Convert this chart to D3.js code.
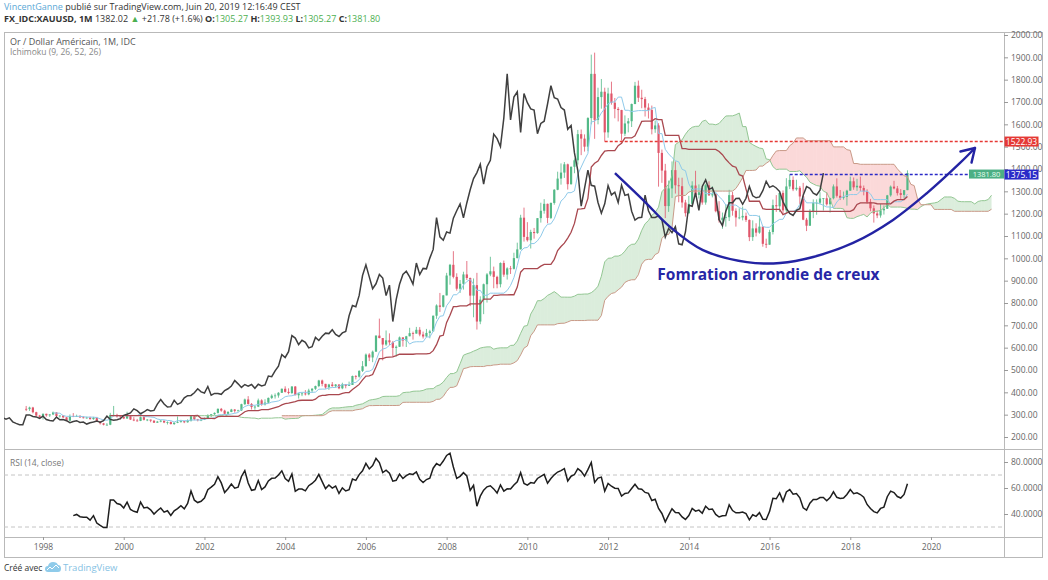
<!doctype html>
<html>
<head>
<meta charset="utf-8">
<script src="https://cdnjs.cloudflare.com/ajax/libs/d3/7.8.5/d3.min.js"></script>
<style>
  body { margin: 0; background: #fff; }
  text { font-family: "Open Sans", sans-serif; }
</style>
<title>Or / Dollar Américain, 1M</title>
</head>
<body>
<svg id="chart" width="1048" height="580"></svg>
<script>
// ---- data (monthly XAUUSD, first bar = Aug 1997) ----
var firstBar = [1997, 8];
var firstOpen = 326;

var closes = [
  325, 332, 311, 296, 290,
  304, 297, 301, 310, 294, 296, 288, 273, 294, 292, 294, 288,
  287, 287, 280, 286, 268, 261, 255, 255, 299, 299, 292, 290,
  283, 293, 278, 274, 272, 289, 277, 278, 273, 264, 269, 273,
  265, 267, 258, 264, 267, 271, 266, 273, 293, 279, 275, 277,
  282, 297, 302, 308, 326, 318, 304, 312, 323, 317, 319, 347,
  368, 348, 334, 336, 364, 346, 354, 375, 385, 386, 398, 416,
  402, 397, 426, 387, 395, 395, 391, 408, 416, 428, 453, 438,
  422, 435, 428, 435, 418, 436, 429, 433, 473, 470, 496, 517,
  569, 556, 582, 654, 643, 614, 633, 624, 599, 604, 646, 632,
  651, 665, 663, 680, 659, 650, 666, 673, 743, 789, 783, 834,
  923, 971, 917, 864, 886, 928, 912, 833, 880, 717, 815, 884,
  928, 942, 917, 884, 979, 927, 955, 953, 1001, 1040, 1182, 1096,
  1081, 1118, 1113, 1180, 1213, 1244, 1181, 1248, 1307, 1357, 1384, 1421,
  1332, 1410, 1439, 1556, 1536, 1500, 1628, 1826, 1620, 1722, 1746, 1564,
  1738, 1697, 1669, 1664, 1558, 1604, 1614, 1691, 1773, 1719, 1713, 1675,
  1664, 1578, 1595, 1472, 1393, 1234, 1313, 1395, 1327, 1323, 1250, 1202,
  1244, 1326, 1284, 1296, 1250, 1327, 1282, 1287, 1211, 1171, 1182, 1184,
  1283, 1213, 1183, 1183, 1190, 1172, 1095, 1134, 1115, 1142, 1065, 1061,
  1118, 1238, 1233, 1293, 1215, 1322, 1351, 1309, 1316, 1277, 1173, 1146,
  1211, 1249, 1249, 1268, 1269, 1242, 1269, 1322, 1280, 1271, 1275, 1303,
  1345, 1318, 1325, 1315, 1299, 1253, 1224, 1201, 1192, 1215, 1222, 1282,
  1321, 1313, 1292, 1284, 1305.27, 1381.80
];

var highs = [
  339, 336, 335, 313, 299,
  305, 304, 302, 314, 311, 297, 297, 289, 301, 307, 300, 298,
  293, 291, 291, 290, 290, 269, 263, 262, 308, 339, 304, 295,
  293, 313, 298, 289, 281, 292, 291, 280, 278, 275, 272, 276,
  273, 270, 270, 266, 292, 277, 272, 279, 298, 294, 281, 281,
  287, 302, 303, 310, 328, 330, 322, 316, 326, 325, 322, 349,
  372, 383, 352, 341, 372, 369, 369, 377, 391, 395, 401, 417,
  427, 418, 428, 428, 396, 400, 410, 416, 419, 430, 456, 457,
  438, 438, 446, 437, 436, 443, 436, 448, 475, 477, 499, 540,
  574, 575, 587, 655, 730, 643, 677, 664, 630, 610, 650, 646,
  653, 689, 672, 693, 692, 672, 684, 680, 744, 794, 845, 836,
  935, 975, 1032, 933, 903, 940, 988, 914, 910, 935, 830, 887,
  934, 1007, 963, 922, 982, 990, 960, 966, 1025, 1070, 1195, 1227,
  1162, 1128, 1136, 1180, 1249, 1265, 1245, 1250, 1310, 1388, 1425, 1431,
  1424, 1411, 1447, 1575, 1577, 1555, 1632, 1912, 1921, 1764, 1803, 1764,
  1764, 1791, 1718, 1677, 1665, 1640, 1628, 1693, 1790, 1796, 1755, 1723,
  1694, 1684, 1617, 1605, 1487, 1423, 1348, 1434, 1434, 1361, 1361, 1262,
  1280, 1345, 1392, 1331, 1315, 1332, 1345, 1323, 1290, 1256, 1205, 1239,
  1307, 1297, 1224, 1224, 1232, 1205, 1174, 1170, 1157, 1191, 1142, 1088,
  1128, 1263, 1283, 1303, 1304, 1359, 1375, 1367, 1352, 1324, 1338, 1181,
  1220, 1264, 1264, 1296, 1270, 1296, 1271, 1331, 1358, 1306, 1299, 1307,
  1366, 1362, 1356, 1366, 1326, 1309, 1266, 1237, 1214, 1243, 1237, 1284,
  1326, 1347, 1324, 1310, 1306, 1393.93
];

var lows = [
  316, 317, 306, 292, 283,
  278, 291, 290, 298, 289, 287, 285, 271, 273, 289, 290, 285,
  283, 282, 278, 277, 267, 256, 252, 252, 253, 292, 287, 278,
  280, 281, 276, 271, 269, 271, 274, 271, 266, 263, 263, 266,
  262, 256, 256, 254, 262, 264, 262, 264, 269, 275, 270, 271,
  276, 282, 289, 299, 305, 313, 301, 301, 311, 309, 315, 317,
  343, 345, 323, 322, 334, 340, 341, 351, 370, 372, 376, 397,
  399, 391, 392, 387, 372, 383, 386, 387, 398, 411, 423, 427,
  416, 411, 425, 421, 414, 414, 418, 429, 433, 458, 466, 491,
  515, 540, 535, 582, 642, 543, 608, 612, 560, 560, 603, 605,
  603, 651, 636, 663, 651, 641, 647, 642, 673, 729, 760, 780,
  834, 882, 910, 855, 845, 860, 903, 786, 736, 681, 705, 750,
  802, 920, 866, 866, 870, 917, 905, 930, 950, 1000, 1040, 1075,
  1075, 1044, 1088, 1110, 1160, 1200, 1157, 1176, 1240, 1305, 1330, 1360,
  1308, 1330, 1381, 1420, 1462, 1478, 1480, 1600, 1535, 1600, 1670, 1523,
  1540, 1688, 1627, 1613, 1527, 1548, 1564, 1588, 1690, 1700, 1672, 1635,
  1626, 1555, 1562, 1321, 1338, 1180, 1208, 1270, 1290, 1251, 1227, 1187,
  1200, 1238, 1277, 1268, 1240, 1240, 1280, 1273, 1206, 1160, 1132, 1142,
  1167, 1191, 1142, 1175, 1170, 1163, 1077, 1078, 1098, 1110, 1052, 1046,
  1061, 1107, 1208, 1207, 1200, 1200, 1310, 1301, 1303, 1241, 1171, 1122,
  1146, 1180, 1195, 1241, 1214, 1236, 1205, 1264, 1272, 1261, 1263, 1236,
  1302, 1307, 1302, 1301, 1282, 1245, 1211, 1160, 1180, 1182, 1196, 1221,
  1276, 1309, 1281, 1266, 1267, 1305.27
];

var yearTicks = [1998, 2000, 2002, 2004, 2006, 2008, 2010, 2012, 2014, 2016, 2018, 2020];
var priceTicks = [200, 300, 400, 500, 600, 700, 800, 900, 1000, 1100, 1200, 1300, 1400, 1500, 1600, 1700, 1800, 1900, 2000];
var rsiTicks = [40, 60, 80];
var rsiBands = [30, 70];
var ichimokuLens = [9, 26, 52, 26];
var rsiLen = 14;

// horizontal levels drawn by the author
var levelPrices = [1522.93, 1375.15];
var levelStarts = [[2011, 12], [2016, 7]];
var lastLabel = "1381.80";

// rounded bottom arc (decimal year, price)
var arcPoints = [
  [2012.17, 1382], [2012.87, 1261], [2013.54, 1140], [2014.35, 1037],
  [2015.44, 983], [2016.26, 979], [2017.08, 1006], [2018.07, 1069],
  [2019.06, 1172], [2019.90, 1292], [2020.72, 1427], [2021.09, 1494]
];
var arcLabel = "Fomration arrondie de creux";
var arcLabelAt = [2013.22, 905];

// ---- layout ----
var svg = d3.select("#chart");
var pane = { left: 4, right: 1004, top: 32, bottom: 449 };
var rsiPane = { top: 449, bottom: 537 };
var axisBottom = 557, frameRight = 1042;

var upColor = "#53b987", downColor = "#e0566a";

function monthIdx(ym) { return (ym[0] - 1998) * 12 + (ym[1] - 1); }
var t0 = monthIdx(firstBar);

var x = d3.scaleLinear().domain([0, 264]).range([43, 931]);
var y = d3.scaleLinear().domain([200, 2000]).range([437, 35]);
var yR = d3.scaleLinear().domain([40, 80]).range([514, 462]);

var bars = closes.map(function(c, i) {
  return { t: t0 + i, o: i ? closes[i - 1] : firstOpen, h: highs[i], l: lows[i], c: c };
});
var n = bars.length;

// ---- Ichimoku ----
function donchian(len, i) {
  if (i < len - 1) return null;
  var hi = d3.max(highs.slice(i - len + 1, i + 1));
  var lo = d3.min(lows.slice(i - len + 1, i + 1));
  return (hi + lo) / 2;
}
var shift = ichimokuLens[3] - 1;
var tenkan = [], kijun = [], spanA = [], spanB = [], chikou = [];
bars.forEach(function(b, i) {
  var tk = donchian(ichimokuLens[0], i), kj = donchian(ichimokuLens[1], i), sb = donchian(ichimokuLens[2], i);
  if (tk != null) tenkan.push({ t: b.t, v: tk });
  if (kj != null) kijun.push({ t: b.t, v: kj });
  spanA.push({ t: b.t + shift, v: (tk != null && kj != null) ? (tk + kj) / 2 : null });
  spanB.push({ t: b.t + shift, v: sb });
  chikou.push({ t: b.t - shift, v: b.c });
});

// ---- RSI (Wilder) ----
var rsi = [];
var avgUp = null, avgDn = null, sumUp = 0, sumDn = 0;
for (var i = 1; i < n; i++) {
  var ch = closes[i] - closes[i - 1];
  var up = Math.max(ch, 0), dn = Math.max(-ch, 0);
  if (i <= rsiLen) {
    sumUp += up; sumDn += dn;
    if (i === rsiLen) { avgUp = sumUp / rsiLen; avgDn = sumDn / rsiLen; }
  } else {
    avgUp = (avgUp * (rsiLen - 1) + up) / rsiLen;
    avgDn = (avgDn * (rsiLen - 1) + dn) / rsiLen;
  }
  if (i >= rsiLen) rsi.push({ t: bars[i].t, v: avgDn === 0 ? 100 : 100 - 100 / (1 + avgUp / avgDn) });
}

// ---- frame ----
var defs = svg.append("defs");
defs.append("clipPath").attr("id", "clipMain").append("rect")
  .attr("x", pane.left).attr("y", pane.top).attr("width", pane.right - pane.left).attr("height", pane.bottom - pane.top);
defs.append("clipPath").attr("id", "clipRsi").append("rect")
  .attr("x", pane.left).attr("y", rsiPane.top).attr("width", pane.right - pane.left).attr("height", rsiPane.bottom - rsiPane.top);

var frame = svg.append("g").attr("stroke", "#b9b9b9").attr("fill", "none");
frame.append("rect").attr("x", pane.left + 0.5).attr("y", pane.top + 0.5)
  .attr("width", frameRight - pane.left).attr("height", axisBottom - pane.top);
frame.append("line").attr("x1", pane.right + 0.5).attr("x2", pane.right + 0.5).attr("y1", pane.top).attr("y2", axisBottom);
frame.append("line").attr("x1", pane.left).attr("x2", frameRight).attr("y1", rsiPane.top + 0.5).attr("y2", rsiPane.top + 0.5);
frame.append("line").attr("x1", pane.left).attr("x2", frameRight).attr("y1", rsiPane.bottom + 0.5).attr("y2", rsiPane.bottom + 0.5);

// ---- main pane ----
var main = svg.append("g").attr("clip-path", "url(#clipMain)");

// cloud fill, coloured per bar like TradingView's fill()
var cloud = spanA.map(function(a, i) { return { t: a.t, a: a.v, b: spanB[i].v }; })
  .filter(function(d) { return d.a != null && d.b != null; });
for (var k = 1; k < cloud.length; k++) {
  var p = cloud[k - 1], q = cloud[k];
  main.append("path")
    .attr("d", "M" + x(p.t) + "," + y(p.a) + "L" + x(q.t) + "," + y(q.a) +
               "L" + x(q.t) + "," + y(q.b) + "L" + x(p.t) + "," + y(p.b) + "Z")
    .attr("fill", q.a >= q.b ? "rgba(90,175,95,0.22)" : "rgba(240,95,95,0.24)")
    .attr("stroke", "none");
}

// candles
var candle = main.selectAll("g.candle").data(bars).enter().append("g").attr("class", "candle");
candle.append("line")
  .attr("x1", function(d) { return x(d.t); }).attr("x2", function(d) { return x(d.t); })
  .attr("y1", function(d) { return y(d.h); }).attr("y2", function(d) { return y(d.l); })
  .attr("stroke", function(d) { return d.c >= d.o ? upColor : downColor; })
  .attr("stroke-width", 0.8);
candle.append("rect")
  .attr("x", function(d) { return x(d.t) - 1.1; })
  .attr("width", 2.2)
  .attr("y", function(d) { return y(Math.max(d.o, d.c)); })
  .attr("height", function(d) { return Math.max(0.8, Math.abs(y(d.o) - y(d.c))); })
  .attr("fill", function(d) { return d.c >= d.o ? upColor : downColor; });

var line = d3.line()
  .defined(function(d) { return d.v != null; })
  .x(function(d) { return x(d.t); })
  .y(function(d) { return y(d.v); });

main.append("path").attr("d", line(spanA)).attr("fill", "none").attr("stroke", "#93c793").attr("stroke-width", 1);
main.append("path").attr("d", line(spanB)).attr("fill", "none").attr("stroke", "#c99a88").attr("stroke-width", 1);
main.append("path").attr("d", line(tenkan)).attr("fill", "none").attr("stroke", "#8fcaea").attr("stroke-width", 1);
main.append("path").attr("d", line(kijun)).attr("fill", "none").attr("stroke", "#a9484f").attr("stroke-width", 1.3);
main.append("path").attr("d", line(chikou)).attr("fill", "none").attr("stroke", "#3f3f3f").attr("stroke-width", 1.5);

// levels
var levelColors = ["#e53935", "#2a2ac8"];
levelPrices.forEach(function(pr, i) {
  main.append("line")
    .attr("x1", x(monthIdx(levelStarts[i]))).attr("x2", pane.right)
    .attr("y1", y(pr)).attr("y2", y(pr))
    .attr("stroke", levelColors[i]).attr("stroke-width", 1.4).attr("stroke-dasharray", "3,2");
});

// arc + arrow
var arcXY = arcPoints.map(function(d) { return [x((d[0] - 1998) * 12), y(d[1])]; });
main.append("path")
  .attr("d", d3.line().curve(d3.curveCatmullRom)(arcXY))
  .attr("fill", "none").attr("stroke", "#2323a3").attr("stroke-width", 2.4);
var tip = arcXY[arcXY.length - 1], prev = arcXY[arcXY.length - 2];
var ang = Math.atan2(tip[1] - prev[1], tip[0] - prev[0]);
[-0.55, 0.55].forEach(function(da) {
  main.append("line")
    .attr("x1", tip[0]).attr("y1", tip[1])
    .attr("x2", tip[0] - 15 * Math.cos(ang + da)).attr("y2", tip[1] - 15 * Math.sin(ang + da))
    .attr("stroke", "#2323a3").attr("stroke-width", 2.4).attr("stroke-linecap", "round");
});
svg.append("text")
  .attr("x", x((arcLabelAt[0] - 1998) * 12)).attr("y", y(arcLabelAt[1]))
  .attr("font-size", 15.5).attr("font-weight", "bold").attr("fill", "#2626a6")
  .text(arcLabel);

// ---- price axis ----
var pAxis = svg.append("g").attr("transform", "translate(" + pane.right + ",0)")
  .call(d3.axisRight(y).tickValues(priceTicks).tickSize(4).tickPadding(3).tickFormat(d3.format(".2f")));
pAxis.select(".domain").remove();
pAxis.selectAll("line").attr("stroke", "#999");
pAxis.selectAll("text").attr("font-size", 8.5).attr("fill", "#666").style("font-family", "'Open Sans', sans-serif");

// level labels on the axis (they sit over the axis labels, as in the snapshot)
levelPrices.forEach(function(pr, i) {
  svg.append("rect").attr("x", pane.right + 0.5).attr("y", y(pr) - 5).attr("width", 34).attr("height", 10)
    .attr("fill", levelColors[i]);
  svg.append("text").attr("x", pane.right + 17.5).attr("y", y(pr) + 3.2).attr("text-anchor", "middle")
    .attr("font-size", 8.5).attr("fill", "#fff").text(d3.format(".2f")(pr));
});
svg.append("rect").attr("x", pane.right - 35).attr("y", y(levelPrices[1]) - 5).attr("width", 35).attr("height", 9)
  .attr("fill", "#4caf84");
svg.append("text").attr("x", pane.right - 17.5).attr("y", y(levelPrices[1]) + 2.5).attr("text-anchor", "middle")
  .attr("font-size", 7.5).attr("fill", "#e8fff0").text(lastLabel);

// ---- RSI pane ----
var rsiG = svg.append("g").attr("clip-path", "url(#clipRsi)");
rsiBands.forEach(function(b) {
  rsiG.append("line").attr("x1", pane.left).attr("x2", pane.right).attr("y1", yR(b)).attr("y2", yR(b))
    .attr("stroke", "#c4c4c4").attr("stroke-dasharray", "4,3");
});
rsiG.append("path")
  .attr("d", d3.line().x(function(d) { return x(d.t); }).y(function(d) { return yR(d.v); })(rsi))
  .attr("fill", "none").attr("stroke", "#1e1e1e").attr("stroke-width", 1.5);

var rAxis = svg.append("g").attr("transform", "translate(" + pane.right + ",0)")
  .call(d3.axisRight(yR).tickValues(rsiTicks).tickSize(4).tickPadding(3).tickFormat(d3.format(".4f")));
rAxis.select(".domain").remove();
rAxis.selectAll("line").attr("stroke", "#999");
rAxis.selectAll("text").attr("font-size", 8.5).attr("fill", "#666").style("font-family", "'Open Sans', sans-serif");

// ---- time axis ----
var xAxis = svg.append("g").attr("transform", "translate(0," + rsiPane.bottom + ")")
  .call(d3.axisBottom(x).tickValues(yearTicks.map(function(yr) { return (yr - 1998) * 12; }))
    .tickSize(3).tickPadding(4).tickFormat(function(d, i) { return yearTicks[i]; }));
xAxis.select(".domain").remove();
xAxis.selectAll("line").attr("stroke", "#999");
xAxis.selectAll("text").attr("font-size", 8.5).attr("fill", "#666").style("font-family", "'Open Sans', sans-serif");

// ---- texts ----
svg.append("text").attr("x", 10).attr("y", 45).attr("font-size", 9).attr("fill", "#555")
  .text("Or / Dollar Américain, 1M, IDC");
svg.append("text").attr("x", 10).attr("y", 55).attr("font-size", 8.5).attr("fill", "#888")
  .text("Ichimoku (9, 26, 52, 26)");
svg.append("text").attr("x", 10).attr("y", 466).attr("font-size", 8.5).attr("fill", "#777")
  .text("RSI (14, close)");

var h1 = svg.append("text").attr("x", 4).attr("y", 10).attr("font-size", 9).attr("fill", "#333");
h1.append("tspan").attr("fill", "#5aa8d6").text("VincentGanne");
h1.append("tspan").text(" publié sur TradingView.com, Juin 20, 2019 12:16:49 CEST");

var h2 = svg.append("text").attr("x", 4).attr("y", 22).attr("font-size", 9).attr("fill", "#333");
h2.append("tspan").attr("font-weight", "bold").text("FX_IDC:XAUUSD, 1M");
h2.append("tspan").text(" 1382.02 ");
h2.append("tspan").attr("fill", "#4caf50").text("▲");
h2.append("tspan").text(" +21.78 (+1.6%) ");
[["O:", "1305.27"], ["H:", "1393.93"], ["L:", "1305.27"], ["C:", "1381.80"]].forEach(function(p) {
  h2.append("tspan").attr("font-weight", "bold").text(p[0]);
  h2.append("tspan").attr("fill", "#4caf50").text(p[1] + " ");
});

// footer
var foot = svg.append("g");
foot.append("text").attr("x", 4).attr("y", 571).attr("font-size", 8.5).attr("fill", "#333")
  .text("Créé avec");
foot.append("path")
  .attr("d", "M48,572 q-3,0 -3,-3 q0,-3 3,-3 q1,-4 5,-4 q4,0 5,3 q3,0 3,3.5 q0,3.5 -3,3.5 Z")
  .attr("fill", "#8fcbea");
foot.append("path").attr("d", "M47,570 l3,-3 l2,2 l4,-4 l3,3").attr("fill", "none").attr("stroke", "#fff").attr("stroke-width", 1);
foot.append("text").attr("x", 63).attr("y", 571).attr("font-size", 9.5).attr("fill", "#86c2e4")
  .text("TradingView");
</script>
</body>
</html>
